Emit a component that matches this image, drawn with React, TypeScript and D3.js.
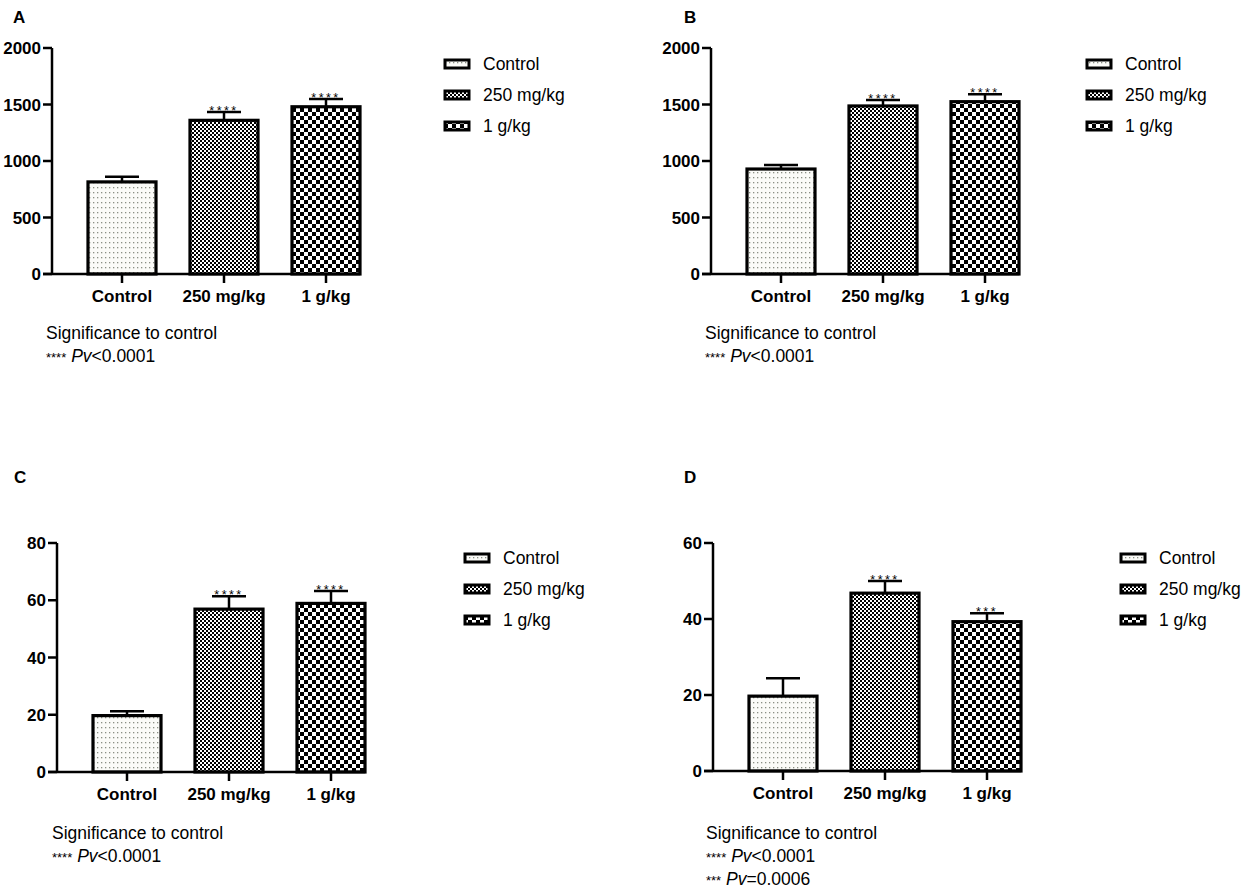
import React from 'react';
import * as d3 from 'd3';

const groups = ['Control', '250 mg/kg', '1 g/kg'];
const patterns = ['dots', 'fineCheck', 'coarseCheck'];

const meansA = [815, 1360, 1480];
const semsA = [46, 74, 69];
const starsA = ['', '****', '****'];
const ticksA = [0, 500, 1000, 1500, 2000];

const meansB = [929, 1487, 1525];
const semsB = [36, 53, 65];
const starsB = ['', '****', '****'];
const ticksB = [0, 500, 1000, 1500, 2000];

const meansC = [19.7, 56.9, 58.9];
const semsC = [1.5, 4.5, 4.3];
const starsC = ['', '****', '****'];
const ticksC = [0, 20, 40, 60, 80];

const meansD = [19.7, 46.8, 39.3];
const semsD = [4.7, 3.2, 2.2];
const starsD = ['', '****', '***'];
const ticksD = [0, 20, 40, 60];

const notesABC = [{ stars: '****', op: '<', p: '0.0001' }];
const notesD = [
  { stars: '****', op: '<', p: '0.0001' },
  { stars: '***', op: '=', p: '0.0006' },
];

const FONT = '"Liberation Sans", Arial, Helvetica, sans-serif';

interface PanelProps {
  label: string;
  labelX: number;
  labelY: number;
  axisX: number;
  yTop: number;
  yBottom: number;
  ticks: number[];
  means: number[];
  sems: number[];
  stars: string[];
  legendX: number;
  legendY: number;
  noteX: number;
  noteY: number;
  notes: { stars: string; op: string; p: string }[];
}

const Panel: React.FC<PanelProps> = (p) => {
  const max = p.ticks[p.ticks.length - 1];
  const y = d3.scaleLinear().domain([0, max]).range([p.yBottom, p.yTop]);
  const x = d3.scalePoint<string>().domain(groups).range([p.axisX + 70, p.axisX + 274]);
  const barW = 68;
  const capW = 34;

  return (
    <g>
      <text x={p.labelX} y={p.labelY} fontSize={17} fontWeight="bold" fontFamily={FONT}>
        {p.label}
      </text>

      {/* bars */}
      {groups.map((g, i) => {
        const cx = x(g)!;
        const top = y(p.means[i]);
        const errTop = y(p.means[i] + p.sems[i]);
        return (
          <g key={g}>
            <line x1={cx} x2={cx} y1={top} y2={errTop} stroke="#000" strokeWidth={2.5} />
            <line x1={cx - capW / 2} x2={cx + capW / 2} y1={errTop} y2={errTop} stroke="#000" strokeWidth={2.5} />
            <rect
              x={cx - barW / 2}
              y={top}
              width={barW}
              height={p.yBottom - top}
              fill={`url(#${patterns[i]})`}
              stroke="#000"
              strokeWidth={3.2}
            />
            {p.stars[i] && (
              <text
                x={cx}
                y={errTop + 3}
                textAnchor="middle"
                fontSize={12.5}
                letterSpacing={2.5}
                fontFamily={FONT}
              >
                {p.stars[i]}
              </text>
            )}
            <line x1={cx} x2={cx} y1={p.yBottom} y2={p.yBottom + 9} stroke="#000" strokeWidth={2.5} />
            <text
              x={cx}
              y={p.yBottom + 28}
              textAnchor="middle"
              fontSize={17}
              fontWeight="bold"
              fontFamily={FONT}
            >
              {g}
            </text>
          </g>
        );
      })}

      {/* axes */}
      <line x1={p.axisX} x2={p.axisX} y1={p.yTop} y2={p.yBottom} stroke="#000" strokeWidth={2.5} />
      <line x1={p.axisX - 9} x2={p.axisX + 308} y1={p.yBottom} y2={p.yBottom} stroke="#000" strokeWidth={2.5} />
      {p.ticks.map((t) => (
        <g key={t}>
          <line x1={p.axisX - 9} x2={p.axisX} y1={y(t)} y2={y(t)} stroke="#000" strokeWidth={2.5} />
          <text
            x={p.axisX - 11}
            y={y(t)}
            dy="0.36em"
            textAnchor="end"
            fontSize={17}
            fontWeight="bold"
            fontFamily={FONT}
          >
            {t}
          </text>
        </g>
      ))}

      {/* legend */}
      {groups.map((g, i) => {
        const ly = p.legendY + i * 31;
        return (
          <g key={g}>
            <rect x={p.legendX} y={ly - 4} width={24} height={8} fill={`url(#${patterns[i]})`} stroke="#000" strokeWidth={3} />
            <text x={p.legendX + 38} y={ly} dy="0.36em" fontSize={17.5} fontFamily={FONT}>
              {g}
            </text>
          </g>
        );
      })}

      {/* significance note */}
      <text x={p.noteX} y={p.noteY} fontSize={17.5} fontFamily={FONT}>
        Significance to control
      </text>
      {p.notes.map((n, i) => (
        <text key={i} x={p.noteX} y={p.noteY + 23 * (i + 1)} fontSize={17.5} fontFamily={FONT}>
          <tspan fontSize={13}>{n.stars}</tspan>
          <tspan> </tspan>
          <tspan fontStyle="italic">Pv</tspan>
          <tspan>{n.op + n.p}</tspan>
        </text>
      ))}
    </g>
  );
};

export default function App() {
  return (
    <svg
      width={1248}
      height={890}
      style={{ position: 'absolute', left: 0, top: 0, background: '#fff' }}
    >
      <defs>
        <pattern id="dots" width={4} height={5} patternUnits="userSpaceOnUse">
          <rect width={4} height={5} fill="#fbfbf8" />
          <rect x={1} y={2} width={1.3} height={1.3} fill="#8a8f84" />
        </pattern>
        <pattern id="fineCheck" width={4} height={4} patternUnits="userSpaceOnUse">
          <rect width={4} height={4} fill="#fff" />
          <rect x={0} y={0} width={2} height={2} fill="#000" />
          <rect x={2} y={2} width={2} height={2} fill="#000" />
        </pattern>
        <pattern id="coarseCheck" width={8} height={8} patternUnits="userSpaceOnUse">
          <rect width={8} height={8} fill="#fff" />
          <rect x={0} y={0} width={4} height={4} fill="#000" />
          <rect x={4} y={4} width={4} height={4} fill="#000" />
        </pattern>
      </defs>

      <Panel
        label="A" labelX={13} labelY={23}
        axisX={52} yTop={48} yBottom={274}
        ticks={ticksA} means={meansA} sems={semsA} stars={starsA}
        legendX={445} legendY={64}
        noteX={46} noteY={339} notes={notesABC}
      />
      <Panel
        label="B" labelX={684} labelY={23}
        axisX={711} yTop={48} yBottom={274}
        ticks={ticksB} means={meansB} sems={semsB} stars={starsB}
        legendX={1087} legendY={64}
        noteX={705} noteY={339} notes={notesABC}
      />
      <Panel
        label="C" labelX={14} labelY={483}
        axisX={57} yTop={543} yBottom={772}
        ticks={ticksC} means={meansC} sems={semsC} stars={starsC}
        legendX={465} legendY={558}
        noteX={52} noteY={839} notes={notesABC}
      />
      <Panel
        label="D" labelX={684} labelY={483}
        axisX={713} yTop={543} yBottom={771}
        ticks={ticksD} means={meansD} sems={semsD} stars={starsD}
        legendX={1121} legendY={558}
        noteX={706} noteY={839} notes={notesD}
      />
    </svg>
  );
}
